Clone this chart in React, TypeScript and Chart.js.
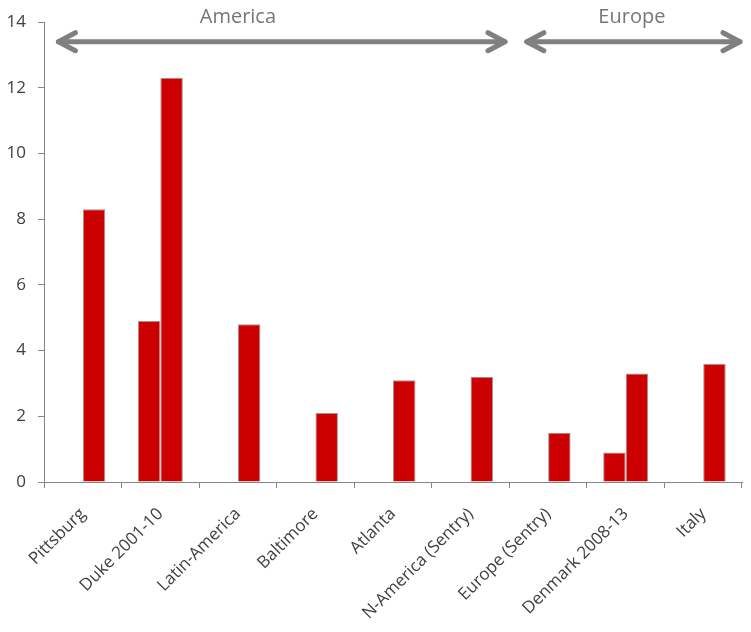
import React, { useEffect, useRef } from "react";
import { Chart, registerables } from "chart.js";

Chart.register(...registerables);

const categories = [
  "Pittsburg",
  "Duke 2001-10",
  "Latin-America",
  "Baltimore",
  "Atlanta",
  "N-America (Sentry)",
  "Europe (Sentry)",
  "Denmark 2008-13",
  "Italy",
];
const series1: (number | null)[] = [null, 4.9, null, null, null, null, null, 0.9, null];
const series2: (number | null)[] = [8.3, 12.3, 4.8, 2.1, 3.1, 3.2, 1.5, 3.3, 3.6];
const yMin = 0;
const yMax = 14;
const yStep = 2;

// Region annotations (positions in category-index units / value units)
const regionLabels = ["America", "Europe"];
const regionFrom = [-0.34, 5.7];
const regionTo = [5.47, 8.5];
const regionLabelAt = [2.0, 7.08];
const regionArrowValue = 13.4;
const regionLabelValue = 14.15;

const FONT = "'Open Sans', 'DejaVu Sans', sans-serif";

const regionPlugin = {
  id: "regionArrows",
  afterDraw(chart: any) {
    const ctx = chart.ctx as CanvasRenderingContext2D;
    const xs = chart.scales.x;
    const ys = chart.scales.y;
    ctx.save();
    ctx.strokeStyle = "#808080";
    ctx.fillStyle = "#767676";
    ctx.lineWidth = 5;
    ctx.lineCap = "round";
    ctx.lineJoin = "round";
    const y = ys.getPixelForValue(regionArrowValue);
    const ax = 17;
    const ay = 9;
    for (let i = 0; i < regionLabels.length; i++) {
      const x1 = xs.getPixelForValue(regionFrom[i]);
      const x2 = xs.getPixelForValue(regionTo[i]);
      ctx.beginPath();
      ctx.moveTo(x1 + 2, y);
      ctx.lineTo(x2 - 2, y);
      ctx.stroke();
      ctx.beginPath();
      ctx.moveTo(x1 + 2 + ax, y - ay);
      ctx.lineTo(x1 + 2, y);
      ctx.lineTo(x1 + 2 + ax, y + ay);
      ctx.stroke();
      ctx.beginPath();
      ctx.moveTo(x2 - 2 - ax, y - ay);
      ctx.lineTo(x2 - 2, y);
      ctx.lineTo(x2 - 2 - ax, y + ay);
      ctx.stroke();
      ctx.font = `20px ${FONT}`;
      ctx.textAlign = "center";
      ctx.textBaseline = "middle";
      ctx.fillText(
        regionLabels[i],
        xs.getPixelForValue(regionLabelAt[i]),
        ys.getPixelForValue(regionLabelValue)
      );
    }
    ctx.restore();
  },
};

export default function App() {
  const ref = useRef<HTMLCanvasElement | null>(null);
  useEffect(() => {
    if (!ref.current) return;
    const chart = new Chart(ref.current, {
      type: "bar",
      data: {
        labels: categories,
        datasets: [
          {
            label: "Series 1",
            data: series1,
            backgroundColor: "#CC0000",
            borderColor: "#999999",
            borderWidth: 1,
            categoryPercentage: 0.58,
            barPercentage: 1.0,
          },
          {
            label: "Series 2",
            data: series2,
            backgroundColor: "#CC0000",
            borderColor: "#999999",
            borderWidth: 1,
            categoryPercentage: 0.58,
            barPercentage: 1.0,
          },
        ],
      },
      options: {
        animation: false,
        responsive: true,
        maintainAspectRatio: false,
        layout: { padding: { top: 22, right: 9, left: 0, bottom: 0 } },
        plugins: {
          legend: { display: false },
          tooltip: { enabled: false },
        },
        scales: {
          x: {
            grid: {
              display: true,
              drawOnChartArea: false,
              drawTicks: true,
              tickLength: 6,
              color: "#868686",
              offset: true,
            },
            border: { color: "#868686", width: 1 },
            ticks: {
              autoSkip: false,
              maxRotation: 45,
              minRotation: 45,
              padding: 16,
              color: "#404040",
              font: { family: FONT, size: 17 },
            },
            afterFit(scale: any) {
              scale.height = 150;
              scale.paddingLeft = 0;
              scale.paddingRight = 0;
            },
          },
          y: {
            min: yMin,
            max: yMax,
            grid: {
              display: true,
              drawOnChartArea: false,
              drawTicks: true,
              tickLength: 6,
              color: "#868686",
            },
            border: { color: "#868686", width: 1 },
            ticks: {
              stepSize: yStep,
              padding: 12,
              color: "#404040",
              font: { family: FONT, size: 17 },
            },
            afterFit(scale: any) {
              scale.width = 44;
              scale.paddingTop = 0;
              scale.paddingBottom = 0;
            },
          },
        },
      },
      plugins: [regionPlugin],
    });
    return () => chart.destroy();
  }, []);
  return (
    <div style={{ position: "fixed", left: 0, top: 0, width: 751, height: 632, background: "#fff" }}>
      <canvas ref={ref} />
    </div>
  );
}
